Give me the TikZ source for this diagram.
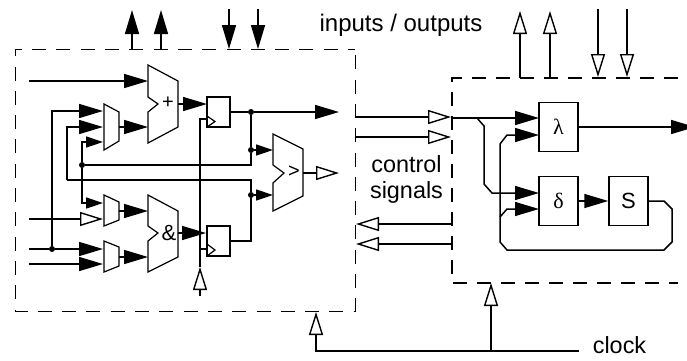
\documentclass[tikz,border=0pt]{standalone}
\usepackage{amsmath,amsfonts,amssymb}
\usepackage{fontspec}
\setmainfont{Liberation Sans}
\newfontfamily\greekfont{Liberation Serif}
\usetikzlibrary{arrows.meta}

\tikzset{
   wire/.style={line width=1.5pt},
   full/.style={wire,-{Triangle[length=24pt,width=14pt]}},
   fullsmall/.style={wire,-{Triangle[length=17pt,width=11pt]}},
   hollow/.style={wire,-{Triangle[open,length=23pt,width=14pt,line width=1.4pt]}},
   block/.style={draw,line width=1.5pt,inner sep=0pt,minimum width=39pt,minimum height=49pt,font=\fontsize{22}{22}\selectfont},
   reg/.style={draw,line width=1.5pt,inner sep=0pt,minimum width=23pt,minimum height=30pt},
   alu/.style={line width=1.2pt},
   dot/.style={circle,fill=black,inner sep=0pt,minimum size=6pt},
   label/.style={inner sep=0pt,font=\fontsize{23.4}{26}\selectfont,align=center},
   sign/.style={inner sep=0pt,font=\fontsize{20}{20}\selectfont}
}

\begin{document}
\begin{tikzpicture}[x=1pt,y=-1pt]
   \useasboundingbox (0,0) rectangle (687,360);
   \clip (0,0) rectangle (687,360);

   % dashed boxes
   \draw[line width=1pt,dash pattern=on 14pt off 10.3pt,dash phase=7pt] (355,49) -- (15,49) -- (15,311) -- (355,311) -- cycle;
   \draw[line width=1.5pt,dash pattern=on 14pt off 10pt] (678,78) -- (452,78) -- (452,283) -- (678,283);

   % arithmetic blocks
   \draw[alu] (148,65) -- (178,81) -- (178,127) -- (148,143) -- (148,112) -- (158,104) -- (148,97) -- cycle;
   \draw[alu] (148,195) -- (178,211) -- (178,257) -- (148,272) -- (148,241) -- (158,233) -- (148,226) -- cycle;
   \draw[alu] (273,134) -- (303,149) -- (303,196) -- (273,211) -- (273,183) -- (284,173) -- (273,165) -- cycle;
   \node[sign] (plus) at (168,103) {+};
   \node[label] (amp) at (169,233) {\fontsize{22}{22}\selectfont\&};
   \node[sign] (gt) at (294,172) {>};

   % small muxes
   \draw[alu] (104,104) -- (119,112) -- (119,141) -- (104,150) -- cycle;
   \draw[alu] (104,195) -- (119,202) -- (119,220) -- (104,226) -- cycle;
   \draw[alu] (104,241) -- (119,247) -- (119,266) -- (104,272) -- cycle;

   % registers
   \node[reg] (regA) at (218.5,112) {};
   \node[reg] (regB) at (218.5,241) {};
   \draw[alu] (207,116) -- (215,121.5) -- (207,127);
   \draw[alu] (207,244) -- (215,250) -- (207,256);

   % right hand blocks
   \node[block] (lam) at (558.5,127) {\greekfont λ};
   \node[block] (del) at (558.5,201) {\greekfont δ};
   \node[block] (st) at (628.5,201) {S};

   % junctions
   \node[dot] (j1) at (52,249) {};
   \node[dot] (j2) at (82,165) {};
   \node[dot] (j3) at (251,112) {};
   \node[dot] (j4) at (251,150) {};
   \node[dot] (j5) at (251,195) {};

   % labels
   \node[label] (io) at (401,25) {\fontsize{24}{26}\selectfont inputs / outputs};
   \node[label] (ctl) at (406.5,179.5) {control\\signals};
   \node[label] (clk) at (619.5,345) {clock};

   % inputs and outputs on top
   \foreach \n/\x in {a/132,b/161} {
      \coordinate (up\n) at (\x,49);
      \coordinate (top\n) at (\x,10);
      \draw[full] (up\n) -- (top\n);
   }
   \foreach \n/\x in {c/229,d/258} {
      \coordinate (dn\n) at (\x,49);
      \coordinate (top\n) at (\x,9);
      \draw[full] (top\n) -- (dn\n);
   }
   \foreach \n/\x in {e/520,f/550} {
      \coordinate (up\n) at (\x,78);
      \coordinate (top\n) at (\x,11);
      \draw[hollow] (up\n) -- (top\n);
   }
   \foreach \n/\x in {g/598,h/627} {
      \coordinate (dn\n) at (\x,77);
      \coordinate (top\n) at (\x,9);
      \draw[hollow] (top\n) -- (dn\n);
   }

   % left inputs
   \coordinate (inA) at (29,81);    \coordinate (addA) at (148,81);
   \coordinate (inB) at (29,219);   \coordinate (muxB) at (103,219);
   \coordinate (inC) at (29,249);   \coordinate (muxC) at (103,249);
   \coordinate (inD) at (29,264);   \coordinate (muxD) at (103,264);
   \draw[full] (inA) -- (addA);
   \draw[hollow] (inB) -- (muxB);
   \draw[wire] (inC) -- (j1);
   \draw[full] (j1) -- (muxC);
   \draw[full] (inD) -- (muxD);

   % mux inputs
   \coordinate (muxE) at (103,111);
   \coordinate (muxF) at (103,127);
   \coordinate (muxG) at (103,142);
   \coordinate (muxH) at (103,203);
   \coordinate (cornF) at (67,180);
   \coordinate (cornR) at (251,180);
   \draw[full] (j1) |- (muxE);
   \draw[full] (cornF) |- (muxF);
   \draw[fullsmall] (j2) |- (muxG);
   \draw[fullsmall] (j2) |- (muxH);
   \draw[wire] (j2) -| (j4);
   \draw[wire] (cornF) -- (cornR) -- (j5);

   % mux outputs
   \foreach \y in {127,211,257} {
      \coordinate (from\y) at (119,\y);
      \coordinate (to\y) at (148,\y);
      \draw[full] (from\y) -- (to\y);
   }

   % to the registers
   \coordinate (addO) at (178,104);  \coordinate (regAin) at (207,104);
   \coordinate (andO) at (178,233);  \coordinate (regBin) at (206,233);
   \draw[full] (addO) -- (regAin);
   \draw[full] (andO) -- (regBin);

   % register clock
   \coordinate (ckBot) at (200,296);
   \coordinate (ckTop) at (200,119);
   \coordinate (ckA) at (207,119);
   \coordinate (ckB) at (207,249);
   \coordinate (ckTip) at (200,267);
   \coordinate (ckJ) at (200,249);
   \draw[hollow] (ckBot) -- (ckTip);
   \draw[wire] (ckTip) -- (ckJ) -- (ckTop) -- (ckA);
   \draw[wire] (ckJ) -- (ckB);

   % register outputs
   \coordinate (outA) at (339,112);
   \coordinate (cmpA) at (273,150);
   \coordinate (cmpB) at (273,195);
   \coordinate (cornB) at (251,241);
   \coordinate (cmpO) at (303,173);
   \coordinate (outB) at (339,173);
   \draw[wire] (regA.east) -- (j3);
   \draw[full] (j3) -- (outA);
   \draw[wire] (j3) -- (j4);
   \draw[fullsmall] (j4) -- (cmpA);
   \draw[wire] (regB.east) -- (cornB) -- (j5);
   \draw[fullsmall] (j5) -- (cmpB);
   \draw[hollow] (cmpO) -- (outB);

   % control signals
   \coordinate (cA) at (355,117);  \coordinate (cAe) at (451,117);
   \coordinate (cB) at (355,137);  \coordinate (cBe) at (451,137);
   \coordinate (cC) at (453,224);  \coordinate (cCe) at (356,224);
   \coordinate (cD) at (453,244);  \coordinate (cDe) at (356,244);
   \draw[hollow] (cA) -- (cAe);
   \draw[hollow] (cB) -- (cBe);
   \draw[hollow] (cC) -- (cCe);
   \draw[hollow] (cD) -- (cDe);

   % controller
   \coordinate (lamA) at (539,118);
   \coordinate (lamB) at (539,135);
   \coordinate (delA) at (539,193);
   \coordinate (delB) at (539,209);
   \coordinate (ctlIn) at (452,118);
   \coordinate (brA) at (477,118);
   \coordinate (brB) at (484,126);
   \coordinate (brC) at (484,184);
   \coordinate (brD) at (492,193);
   \coordinate (fbA) at (500,144);
   \coordinate (fbB) at (507,135);
   \coordinate (fbC) at (500,217);
   \coordinate (fbD) at (507,209);
   \coordinate (fbE) at (500,242);
   \coordinate (fbF) at (507,250);
   \coordinate (fbG) at (664,250);
   \coordinate (fbH) at (672,242);
   \coordinate (fbI) at (672,209);
   \coordinate (fbJ) at (664,201);
   \coordinate (lamO) at (695,127);
   \draw[full] (ctlIn) -- (lamA);
   \draw[full] (brA) -- (brB) -- (brC) -- (brD) -- (delA);
   \draw[full] (fbA) -- (fbB) -- (lamB);
   \draw[full] (fbC) -- (fbD) -- (delB);
   \draw[wire] (fbA) -- (fbE) -- (fbF) -- (fbG) -- (fbH) -- (fbI) -- (fbJ) -- (st.east);
   \draw[full] (lam.east) -- (lamO);
   \draw[full] (del.east) -- (st.west);

   % clock
   \coordinate (clkE) at (579,351);
   \coordinate (clkJ) at (491,351);
   \coordinate (clkL) at (316,351);
   \coordinate (boxA) at (316,312);
   \coordinate (boxB) at (491,283);
   \draw[hollow] (clkE) -- (clkL) -- (boxA);
   \draw[hollow] (clkJ) -- (boxB);
\end{tikzpicture}
\end{document}
